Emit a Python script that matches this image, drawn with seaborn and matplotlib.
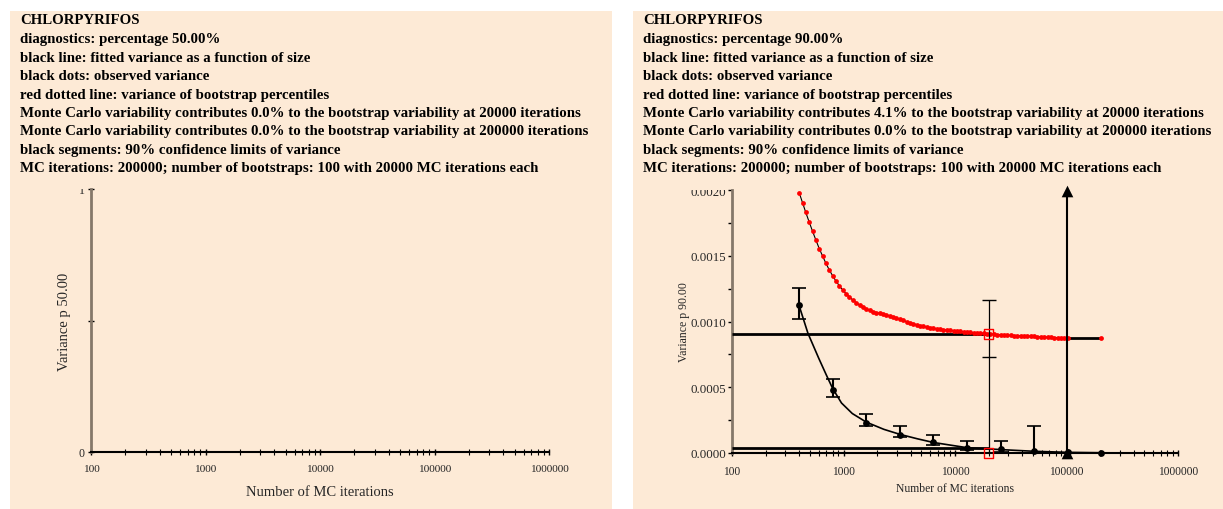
import numpy as np
import matplotlib
matplotlib.use("Agg")
import matplotlib.pyplot as plt
import seaborn as sns
from matplotlib.patches import Rectangle
from matplotlib.ticker import FixedLocator, NullFormatter, FuncFormatter

# ---------------- data ----------------
compound = "CHLORPYRIFOS"
left_lines = [
    "diagnostics: percentage 50.00%",
    "black line: fitted variance as a function of size",
    "black dots: observed variance",
    "red dotted line: variance of bootstrap percentiles",
    "Monte Carlo variability contributes 0.0% to the bootstrap variability at 20000 iterations",
    "Monte Carlo variability contributes 0.0% to the bootstrap variability at 200000 iterations",
    "black segments: 90% confidence limits of variance",
    "MC iterations: 200000; number of bootstraps: 100 with 20000 MC iterations each",
]
right_lines = [
    "diagnostics: percentage 90.00%",
    "black line: fitted variance as a function of size",
    "black dots: observed variance",
    "red dotted line: variance of bootstrap percentiles",
    "Monte Carlo variability contributes 4.1% to the bootstrap variability at 20000 iterations",
    "Monte Carlo variability contributes 0.0% to the bootstrap variability at 200000 iterations",
    "black segments: 90% confidence limits of variance",
    "MC iterations: 200000; number of bootstraps: 100 with 20000 MC iterations each",
]
left_ylabel = "Variance p 50.00"
right_ylabel = "Variance p 90.00"
xlabel = "Number of MC iterations"
x_ticks = [100, 1000, 10000, 100000, 1000000]

# bootstrap percentile variance (red dots)
boot_sizes = [400, 429, 459, 492, 528, 566, 606, 650, 696, 746,
              800, 857, 919, 985, 1056, 1131, 1213, 1300, 1393, 1493,
              1600, 1715, 1838, 1970, 2111, 2263, 2425, 2599, 2786, 2986,
              3200, 3430, 3676, 3940, 4222, 4525, 4850, 5198, 5572, 5971,
              6400, 6859, 7352, 7879, 8445, 9051, 9701, 10397, 11143, 11943,
              12800, 13719, 14703, 15758, 16889, 18102, 19401, 20794, 22286, 23886,
              25600, 27437, 29407, 31517, 33779, 36204, 38802, 41587, 44572, 47771,
              51200, 54875, 58813, 63035, 67559, 72407, 77604, 83174, 89144, 95542,
              102400]
boot_var = [1.980, 1.904, 1.829, 1.757, 1.686, 1.618, 1.555, 1.497, 1.442, 1.392,
            1.347, 1.307, 1.271, 1.239, 1.211, 1.186, 1.163, 1.143, 1.126, 1.111,
            1.096, 1.084, 1.075, 1.068, 1.063, 1.058, 1.051, 1.043, 1.034, 1.025,
            1.017, 1.008, 0.999, 0.990, 0.983, 0.976, 0.969, 0.963, 0.958, 0.953,
            0.949, 0.945, 0.942, 0.938, 0.935, 0.932, 0.930, 0.928, 0.925, 0.922,
            0.919, 0.917, 0.915, 0.913, 0.911, 0.909, 0.907, 0.905, 0.903, 0.901,
            0.899, 0.897, 0.895, 0.894, 0.893, 0.892, 0.891, 0.890, 0.889, 0.888,
            0.887, 0.885, 0.884, 0.882, 0.881, 0.879, 0.878, 0.877, 0.876, 0.875,
            0.875]
boot_var = [v * 1e-3 for v in boot_var]
full_size = 204800
full_boot_var = 0.000875

# observed variance (black dots) with 90% confidence limits
obs_sizes = [400, 800, 1600, 3200, 6400, 12800, 25600, 51200, 102400, 204800]
obs_var = [0.001122, 0.00048, 0.00023, 0.00014, 0.000083, 0.0000405, 0.000028, 0.000015, 0.000004, 0.000002]
ci_low = [0.001018, 0.000429, 0.000204, 0.00012, 0.00006, 0.000023, 0.0000075, 0.0, np.nan, np.nan]
ci_high = [0.001255, 0.000566, 0.000293, 0.000204, 0.000139, 0.0000906, 0.000088, 0.000203, np.nan, np.nan]

# fitted variance (black line)
fit_sizes = [400, 480, 600, 700, 800, 960, 1200, 1600, 2300, 3200, 4600, 6400, 12800, 25600, 51200, 102400, 204800]
fit_var = [0.00112, 0.00091, 0.00072, 0.000595, 0.00049, 0.00038, 0.0003, 0.000235, 0.00018, 0.000142,
           0.000108, 0.000080, 0.0000405, 0.000026, 0.000013, 0.000005, 0.000002]

# reference at 20000 iterations
ref_iter = 20000
ref_start = 100
ref_boot_var = 0.000905
ref_mc_var = 0.0000371
ref_boot_ci = [0.000732, 0.001166]
ref_squares = [0.000905, 0.0]
# full run segment
full_iter = 100000
full_seg = [0.0, 0.001995]

# ---------------- style ----------------
sns.set_theme(style="ticks")
plt.rcParams["font.family"] = ["Liberation Serif", "DejaVu Serif"]
BG = "#FDEAD6"
AXGRAY = "#85786A"

fig = plt.figure(figsize=(12.23, 5.10), dpi=100, facecolor="white")
W, H = 1223, 510

def fx(px):
    return px / W

def fy(py):
    return 1 - py / H

# panels
fig.patches.append(Rectangle((fx(10), 0), fx(612) - fx(10), fy(12), transform=fig.transFigure,
                             facecolor=BG, edgecolor="none", zorder=-10))
fig.patches.append(Rectangle((fx(633), 0), 1 - fx(633), fy(12), transform=fig.transFigure,
                             facecolor=BG, edgecolor="none", zorder=-10))

# text blocks
line_y = [20.5, 39.5, 58, 76.5, 95, 113.5, 132, 150.5, 169]
for x0, lines in ((20, left_lines), (643, right_lines)):
    for yy, t in zip(line_y, [compound] + lines):
        fig.text(fx(x0), fy(yy), t, ha="left", va="center", fontsize=10.7, fontweight="bold", color="black")

def style_axes(ax):
    ax.set_facecolor(BG)
    ax.patch.set_alpha(0)
    for s in ("top", "right"):
        ax.spines[s].set_visible(False)
    ax.spines["left"].set_color(AXGRAY)
    ax.spines["left"].set_linewidth(2)
    ax.spines["bottom"].set_color("black")
    ax.spines["bottom"].set_linewidth(1.5)
    ax.set_xscale("log")
    ax.set_xlim(100, 1000000)
    ax.xaxis.set_major_locator(FixedLocator(x_ticks))
    ax.xaxis.set_major_formatter(FuncFormatter(lambda v, p: f"{int(round(v))}"))
    minors = [m * 10 ** e for e in range(2, 6) for m in range(2, 10)]
    ax.xaxis.set_minor_locator(FixedLocator(minors))
    ax.xaxis.set_minor_formatter(NullFormatter())
    ax.tick_params(axis="x", which="major", direction="inout", length=5, width=1, color="black", pad=6)
    ax.tick_params(axis="x", which="minor", direction="inout", length=4, width=0.8, color="black")
    ax.grid(False)

# ---------------- left (empty) ----------------
axL = fig.add_axes([fx(91), fy(453), fx(549) - fx(91), fy(190) - fy(453)])
style_axes(axL)
axL.set_ylim(0, 1)
axL.yaxis.set_major_locator(FixedLocator([0, 1]))
axL.yaxis.set_minor_locator(FixedLocator([0.5]))
axL.tick_params(axis="y", which="both", direction="inout", length=5, width=1, color="black", pad=2, labelsize=8.5)
axL.tick_params(axis="x", labelsize=8.2)
axL.set_xlabel(xlabel, fontsize=10.5)
axL.xaxis.set_label_coords(0.5, -0.125)
axL.set_ylabel(left_ylabel, fontsize=10.5)
axL.yaxis.set_label_coords(-0.043, 0.5)

# ---------------- right ----------------
axR = fig.add_axes([fx(732), fy(454), fx(1178) - fx(732), fy(191) - fy(454)])
style_axes(axR)
axR.set_ylim(0, 0.002)
axR.yaxis.set_major_locator(FixedLocator([0, 0.0005, 0.001, 0.0015, 0.002]))
axR.yaxis.set_major_formatter(FuncFormatter(lambda v, p: f"{v:.4f}"))
axR.yaxis.set_minor_locator(FixedLocator([0.00025, 0.00075, 0.00125, 0.00175]))
axR.tick_params(axis="y", which="both", direction="out", length=3, width=1, color="black", pad=1, labelsize=9.3)
axR.tick_params(axis="x", labelsize=8.3)

# reference horizontal lines at 20000 iterations
axR.hlines([ref_boot_var, ref_mc_var], ref_start, ref_iter, colors="black", linewidth=2, zorder=3)

# thin black line through bootstrap points, red dots
sns.lineplot(x=boot_sizes, y=boot_var, ax=axR, color="black", linewidth=0.8,
             estimator=None, sort=False, zorder=4)
sns.lineplot(x=[boot_sizes[-1], full_size], y=[boot_var[-1], full_boot_var], ax=axR, color="black",
             linewidth=2, estimator=None, sort=False, zorder=4)
sns.scatterplot(x=boot_sizes + [full_size], y=boot_var + [full_boot_var], ax=axR, color="red",
                s=12, linewidth=0, zorder=5)

# fitted line and observed dots
sns.lineplot(x=fit_sizes, y=fit_var, ax=axR, color="black", linewidth=1.2, estimator=None, sort=False, zorder=4)
obs_arr = np.array(obs_var)
lo = np.array(ci_low)
hi = np.array(ci_high)
ok = ~np.isnan(lo)
axR.errorbar(np.array(obs_sizes)[ok], obs_arr[ok], yerr=[obs_arr[ok] - lo[ok], hi[ok] - obs_arr[ok]],
             fmt="none", ecolor="black", elinewidth=1.5, capsize=5, capthick=1.2, zorder=6)
sns.scatterplot(x=obs_sizes, y=obs_var, ax=axR, color="black", s=24, linewidth=0, zorder=7, clip_on=False)

# bootstrap CI at 20000
axR.errorbar([ref_iter], [ref_squares[0]], yerr=[[ref_squares[0] - ref_boot_ci[0]], [ref_boot_ci[1] - ref_squares[0]]],
             fmt="none", ecolor="black", elinewidth=0.9, capsize=5, capthick=1, zorder=6)
axR.vlines([ref_iter], ref_squares[1], ref_boot_ci[0], colors="black", linewidth=0.9, zorder=6)
sns.scatterplot(x=[ref_iter, ref_iter], y=ref_squares, ax=axR, marker="s", s=45, facecolor="none",
                edgecolor="red", linewidth=1, zorder=8, clip_on=False)

# full run vertical segment with triangles
axR.vlines([full_iter], full_seg[0], full_seg[1], colors="black", linewidth=1.5, zorder=6)
sns.scatterplot(x=[full_iter, full_iter], y=full_seg, ax=axR, marker="^", s=70, color="black",
                linewidth=0, zorder=9, clip_on=False)

axR.set_xlabel(xlabel, fontsize=8.4)
axR.xaxis.set_label_coords(0.5, -0.112)
axR.set_ylabel(right_ylabel, fontsize=8.5)
axR.yaxis.set_label_coords(-0.095, 0.5)
axR.set_xlim(100, 1000000)
axR.set_ylim(0, 0.002)

# cover the top of the topmost tick labels (cropped in the original)
for x0, x1, ybot in ((55, 87, 190), (660, 728, 191)):
    fig.patches.append(Rectangle((fx(x0), fy(ybot)), fx(x1) - fx(x0), fy(180) - fy(ybot),
                                 transform=fig.transFigure, facecolor=BG, edgecolor="none", zorder=20))

fig.savefig("out.png", dpi=100, facecolor="white")
